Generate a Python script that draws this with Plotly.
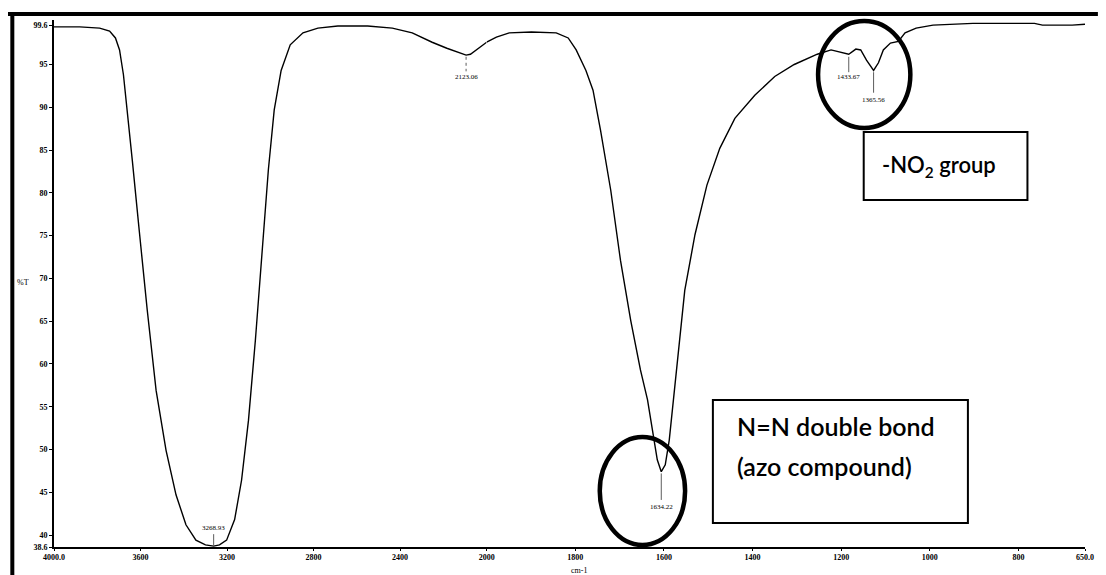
import numpy as np
import plotly.graph_objects as go

# ---- data: wavenumber (cm-1) vs %T ----
wavenumber = [4000, 3881, 3789, 3743, 3716, 3697, 3679, 3661, 3638, 3606, 3569, 3528,
              3482, 3436, 3390, 3344, 3300, 3262, 3235, 3202, 3165, 3133, 3101, 3069,
              3037, 3009, 2982, 2950, 2908, 2849, 2780, 2688, 2550, 2436, 2344, 2252,
              2184, 2120, 2095, 2075, 2030, 2000,
              1978, 1949, 1899, 1843, 1816, 1798, 1776, 1760, 1743, 1720, 1698, 1675,
              1653, 1637, 1624, 1615, 1606, 1597, 1588, 1579, 1568, 1553, 1530, 1503,
              1474, 1440, 1395, 1350, 1306, 1254, 1223, 1201, 1183, 1167, 1156, 1143,
              1127, 1116, 1105, 1089, 1071, 1056, 1031, 993, 903, 791, 764, 746, 701,
              679, 650]
transmittance = [99.4, 99.4, 99.25, 98.9, 98.1, 96.7, 93.8, 89.7, 83.8, 75.6, 66.3, 56.9,
                 49.9, 44.7, 41.2, 39.4, 38.85, 38.7, 38.85, 39.4, 41.8, 46.4, 53.4, 62.8,
                 73.3, 82.7, 89.7, 94.3, 97.3, 98.7, 99.25, 99.5, 99.5, 99.25, 98.7, 97.6,
                 96.9, 96.3, 96.1, 96.2, 97.0, 97.6,
                 98.2, 98.7, 98.8, 98.7, 98.1, 96.7, 94.3, 92.0, 87.3, 80.3, 72.1, 65.1,
                 59.3, 55.8, 51.4, 48.8, 47.4, 48.2, 51.1, 55.8, 61.6, 68.6, 75.1, 80.9,
                 85.2, 88.7, 91.4, 93.6, 95.0, 96.2, 96.7, 96.4, 96.2, 96.8, 96.7, 95.5,
                 94.3, 95.2, 96.7, 97.5, 97.7, 98.7, 99.25, 99.6, 99.8, 99.8, 99.8, 99.6, 99.55,
                 99.6, 99.7]

# peak labels: text, position on the drawn curve (axis units), label level (%T)
peak_text = ["3268.93", "2123.06", "1634.22", "1433.67", "1365.56"]
peak_pos = [3262, 2095, 1606, 1183, 1127]
peak_line_top = [40.1, 95.9, 47.2, 95.9, 94.1]
peak_line_bot = [38.8, 94.2, 44.1, 94.1, 91.7]
peak_label_T = [40.8, 93.5, 43.3, 93.5, 90.8]
peak_dash = [False, True, False, False, False]

x_ticks_high = [4000, 3600, 3200, 2800, 2400, 2000]
x_text_high = ["4000.0", "3600", "3200", "2800", "2400", "2000"]
x_ticks_low = [1800, 1600, 1400, 1200, 1000, 800, 650]
x_text_low = ["1800", "1600", "1400", "1200", "1000", "800", "650.0"]
y_ticks = [38.6, 40, 45, 50, 55, 60, 65, 70, 75, 80, 85, 90, 95, 99.6]
y_text = ["38.6", "40", "45", "50", "55", "60", "65", "70", "75", "80", "85", "90", "95", "99.6"]

# ---- layout geometry (page body adds an 8px offset) ----
OFF = 8
W, H = 1106 - OFF, 575 - OFF
ML, MR, MT, MB = 54 - OFF, 13, 20 - OFF, 28
PW, PH = W - ML - MR, H - MT - MB
SPLIT = 436 / PW  # scale change at 2000 cm-1


def px(x):
    return (x - OFF - ML) / PW


def py(y):
    return (H - MB - (y - OFF)) / PH


wn = np.array(wavenumber)
tr = np.array(transmittance)
hi = wn >= 2000
lo = wn <= 2000

fig = go.Figure()
fig.add_trace(go.Scatter(x=wn[hi], y=tr[hi], mode="lines", xaxis="x", yaxis="y",
                         line=dict(color="black", width=1.4), showlegend=False,
                         hoverinfo="skip"))
fig.add_trace(go.Scatter(x=wn[lo], y=tr[lo], mode="lines", xaxis="x2", yaxis="y",
                         line=dict(color="black", width=1.4), showlegend=False,
                         hoverinfo="skip"))

shapes = []
annotations = []
serif = "Liberation Serif"
for t, p, lt, lb, ly, d in zip(peak_text, peak_pos, peak_line_top, peak_line_bot,
                               peak_label_T, peak_dash):
    xr = "x" if p > 2000 else "x2"
    shapes.append(dict(type="line", xref=xr, yref="y", x0=p, x1=p, y0=lt, y1=lb,
                       line=dict(color="#333", width=0.8, dash="dot" if d else "solid")))
    annotations.append(dict(x=p, y=ly, xref=xr, yref="y", text=t, showarrow=False,
                            xanchor="center", yanchor="middle",
                            font=dict(family=serif, size=7, color="black")))

# frame lines
shapes.append(dict(type="line", xref="paper", yref="paper", x0=px(0), x1=px(1106),
                   y0=py(14), y1=py(14), line=dict(color="black", width=4)))
shapes.append(dict(type="line", xref="paper", yref="paper", x0=px(12), x1=px(12),
                   y0=py(12), y1=py(575), line=dict(color="black", width=4)))
# circles
shapes.append(dict(type="circle", xref="paper", yref="paper", x0=px(604), x1=px(690),
                   y0=py(545), y1=py(437), line=dict(color="black", width=4.5)))
shapes.append(dict(type="circle", xref="paper", yref="paper", x0=px(824), x1=px(917),
                   y0=py(128), y1=py(21), line=dict(color="black", width=4.5)))
# boxes
shapes.append(dict(type="rect", xref="paper", yref="paper", x0=px(718), x1=px(975),
                   y0=py(523), y1=py(400), line=dict(color="black", width=2)))
shapes.append(dict(type="rect", xref="paper", yref="paper", x0=px(870), x1=px(1035),
                   y0=py(200), y1=py(132), line=dict(color="black", width=2)))

sans = "Lato"
box_font = dict(family=sans, size=25, color="black", weight=600)
annotations += [
    dict(x=px(740), y=py(426), xref="paper", yref="paper", xanchor="left", yanchor="middle",
         text="N=N double bond", showarrow=False, font=box_font),
    dict(x=px(740), y=py(466), xref="paper", yref="paper", xanchor="left", yanchor="middle",
         text="(azo compound)", showarrow=False, font=box_font),
    dict(x=px(886), y=py(166), xref="paper", yref="paper", xanchor="left", yanchor="middle",
         text="-NO<sub>2</sub> group",
         showarrow=False, font={**box_font, "size": 22}),
    dict(x=px(15), y=py(282), xref="paper", yref="paper", xanchor="left", yanchor="middle",
         text="%T", showarrow=False, font=dict(family=serif, size=8, color="black")),
    dict(x=px(583), y=py(570), xref="paper", yref="paper", xanchor="center", yanchor="middle",
         text="cm-1", showarrow=False, font=dict(family=serif, size=8, color="black")),
]

axis_common = dict(showline=True, linecolor="black", linewidth=1.5, ticks="outside",
                   ticklen=2, tickcolor="black", showgrid=False, zeroline=False,
                   tickfont=dict(family=serif, size=8, color="black", weight="bold"))
fig.update_layout(
    width=W, height=H,
    margin=dict(l=ML, r=MR, t=MT, b=MB),
    paper_bgcolor="white", plot_bgcolor="white",
    xaxis=dict(domain=[0, SPLIT], range=[4000, 2000], tickvals=x_ticks_high,
               ticktext=x_text_high, anchor="y", **axis_common),
    xaxis2=dict(domain=[SPLIT, 1], range=[2000, 650], tickvals=x_ticks_low,
                ticktext=x_text_low, anchor="y", **axis_common),
    yaxis=dict(range=[38.6, 100.2], tickvals=y_ticks, ticktext=y_text, anchor="x",
               **{**axis_common, "linewidth": 2, "ticklen": 3}),
    shapes=shapes, annotations=annotations,
)

fig.write_html("out.html")
